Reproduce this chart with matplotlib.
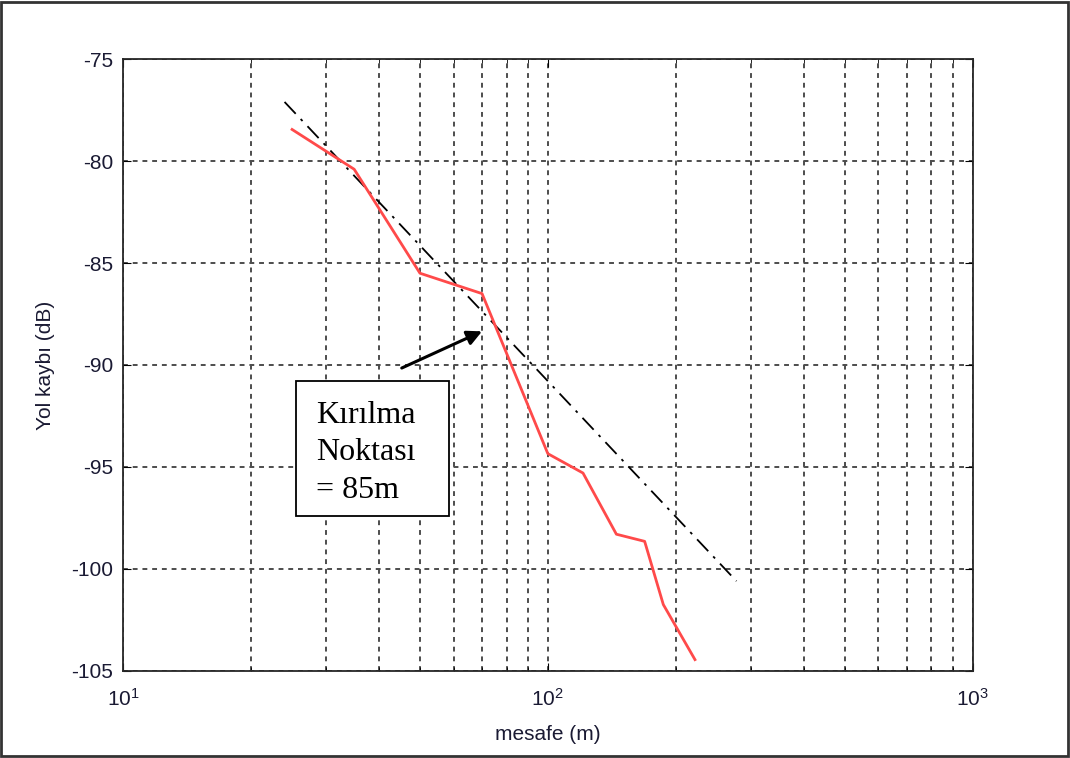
import numpy as np
import matplotlib.pyplot as plt
from matplotlib.patches import Rectangle

plt.rcParams['font.family'] = ['Liberation Sans', 'DejaVu Sans']
plt.rcParams['mathtext.default'] = 'regular'
plt.rcParams['axes.unicode_minus'] = False

# measured path loss (red curve)
mesafe = [25, 35, 50, 70, 100, 121, 145, 169, 187, 222]
kayip = [-78.45, -80.4, -85.5, -86.5, -94.35, -95.3, -98.3, -98.65, -101.75, -104.45]

# reference slope line (dash-dot)
ref_x = [24, 278]
ref_y = [-77.1, -100.6]

fig = plt.figure(figsize=(10.7, 7.58), dpi=100)
ax = fig.add_axes([0.115, 0.115, 0.794, 0.807])

ax.plot(ref_x, ref_y, color='black', lw=1.3, linestyle=(0, (9, 4, 1.5, 4)))
ax.plot(mesafe, kayip, color='#ff4a4a', lw=2)

ax.set_xscale('log')
ax.set_xlim(10, 1000)
ax.set_ylim(-105, -75)
ax.set_yticks(np.arange(-105, -74, 5))

ax.grid(True, which='major', color='0.3', linestyle=(0, (2.5, 2.5)), lw=1.4)
ax.grid(True, which='minor', axis='x', color='0.3', linestyle=(0, (2.5, 2.5)), lw=1.4)
ax.tick_params(which='both', direction='in', top=True, right=True, labelsize=15,
               labelcolor='#1a1a33')
ax.tick_params(which='major', length=6)
ax.tick_params(which='minor', length=3)
ax.tick_params(axis='x', pad=12)
ax.tick_params(axis='y', pad=7)
for s in ax.spines.values():
    s.set_linewidth(1.3)
    s.set_color('0.15')

ax.set_xlabel('mesafe (m)', fontsize=15, color='#1a1a33', labelpad=11)
ax.set_ylabel('Yol kaybı (dB)', fontsize=15, color='#1a1a33', labelpad=12)

# annotation box
ax.add_patch(Rectangle((25.5, -97.4), 33.0, 6.6, facecolor='white',
                       edgecolor='black', lw=1.3, zorder=5))
ax.text(28.5, -91.75, 'Kırılma\nNoktası\n= 85m', fontsize=23,
        family='Liberation Serif', va='top', ha='left', zorder=6,
        linespacing=1.4)
ax.annotate('', xy=(70, -88.35), xytext=(45.3, -90.15),
            arrowprops=dict(arrowstyle='-|>', color='black', lw=2.2,
                            mutation_scale=22, shrinkA=0, shrinkB=0),
            zorder=6)

fig.patches.append(Rectangle((0.001, 0.002), 0.997, 0.996, transform=fig.transFigure,
                             fill=False, edgecolor='0.2', lw=2))

fig.savefig('out.png', dpi=100)
